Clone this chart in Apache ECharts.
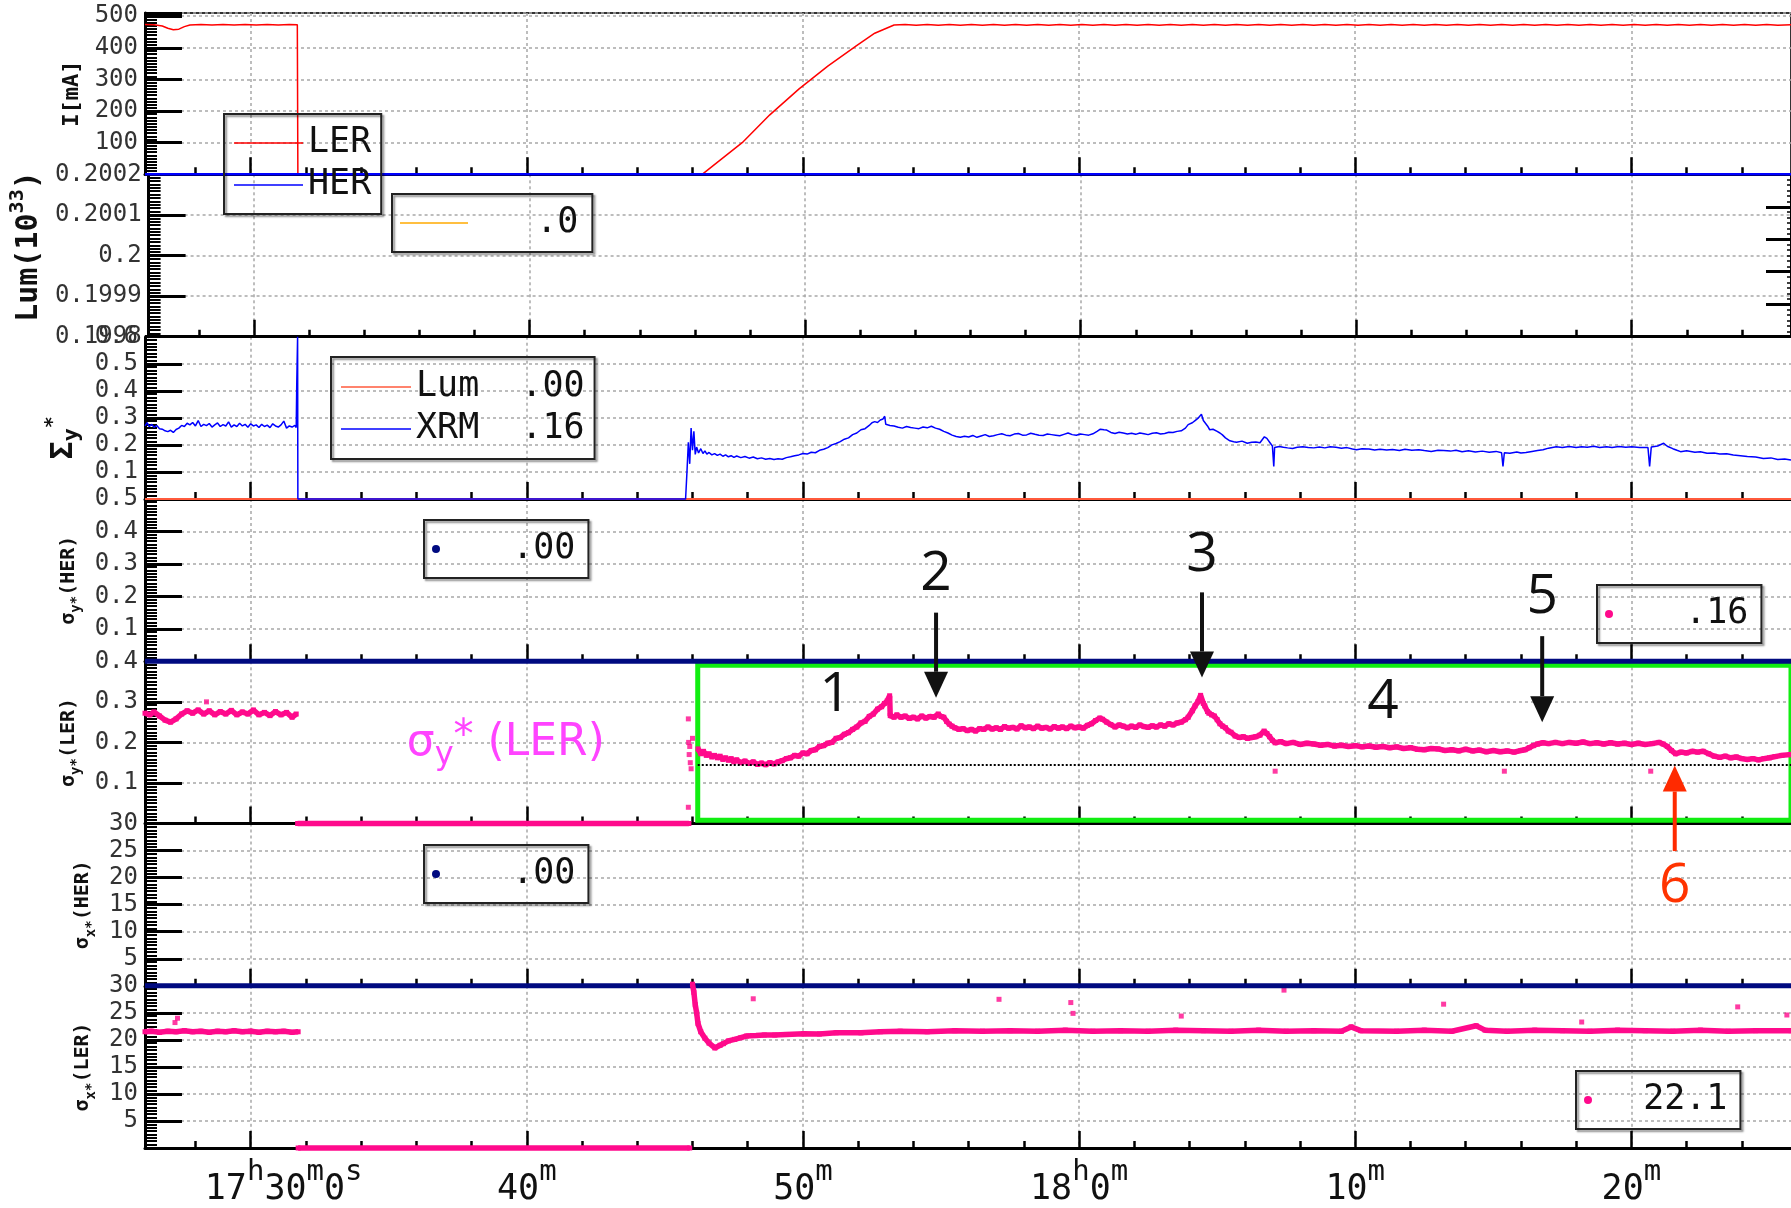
<!DOCTYPE html>
<html><head><meta charset="utf-8">
<script src="https://cdn.jsdelivr.net/npm/echarts@6.0.0/dist/echarts.min.js"></script>
<style>html,body{margin:0;padding:0;background:#fff}#c{width:1791px;height:1208px}</style>
</head><body><div id="c"></div>
<script>
// ---------- x axis (minutes after 17:00) ----------
const X_MIN = 26.174, X_MAX = 85.78;
const xMajorTicks = [30, 40, 50, 60, 70, 80];
const xMinorTicks = [28, 32, 34, 36, 38, 42, 44, 46, 48, 52, 54, 56, 58, 62, 64, 66, 68, 72, 74, 76, 78, 82, 84];
const xTickLabels = [['17','h','30','m','0','s'], ['40','m'], ['50','m'], ['18','h','0','m'], ['10','m'], ['20','m']];

// ---------- series data [t, value] ----------
const LER_I = [[26.174,474],[26.5,473],[26.8,469],[27.0,462],[27.2,457],[27.4,459],[27.6,467],[27.8,472],[28.2,474],[28.6,472],[29.0,474],[29.4,472],[29.8,474],[30.2,472],[30.6,474],[31.0,472],[31.4,474],[31.69,473],[31.71,0],[46.35,0],[47.0,45],[47.8,100],[48.8,188],[49.86,270],[50.9,342],[51.93,406],[52.6,446],[53.3,472],[53.7,474],[54.1,471],[54.5,474],[54.9,471],[55.3,474],[55.7,471],[56.1,474],[56.5,471],[56.9,474],[57.3,471],[57.7,474],[58.1,471],[58.5,474],[58.9,471],[59.3,474],[59.7,471],[60.1,474],[60.5,471],[60.9,474],[61.3,471],[61.7,474],[62.1,471],[62.5,474],[62.9,471],[63.3,474],[63.7,471],[64.1,474],[64.5,471],[64.9,474],[65.3,471],[65.7,474],[66.1,471],[66.5,474],[66.9,471],[67.3,474],[67.7,471],[68.1,474],[68.5,471],[68.9,474],[69.3,471],[69.7,474],[70.1,471],[70.5,474],[70.9,471],[71.3,474],[71.7,471],[72.1,474],[72.5,471],[72.9,474],[73.3,471],[73.7,474],[74.1,471],[74.5,474],[74.9,471],[75.3,474],[75.7,471],[76.1,474],[76.5,471],[76.9,474],[77.3,471],[77.7,474],[78.1,471],[78.5,474],[78.9,471],[79.3,474],[79.7,471],[80.1,474],[80.5,471],[80.9,474],[81.3,471],[81.7,474],[82.1,471],[82.5,474],[82.9,471],[83.3,474],[83.7,471],[84.1,474],[84.5,471],[84.9,474],[85.3,471],[85.78,473]];
const HER_I = [[26.174,0],[85.78,0]];
const LUM = [[26.174,0],[85.78,0]];
const XRM = [[26.174,0.27],[26.25,0.282],[26.33,0.268],[26.42,0.276],[26.5,0.265],[26.6,0.272],[26.7,0.26],[26.8,0.258],[26.9,0.252],[27.0,0.249],[27.1,0.254],[27.2,0.246],[27.3,0.257],[27.4,0.262],[27.5,0.272],[27.6,0.268],[27.7,0.28],[27.8,0.274],[27.9,0.283],[28.0,0.27],[28.1,0.29],[28.2,0.268],[28.3,0.276],[28.4,0.271],[28.5,0.279],[28.6,0.266],[28.7,0.274],[28.8,0.281],[28.9,0.268],[29.0,0.275],[29.1,0.27],[29.2,0.285],[29.3,0.266],[29.4,0.274],[29.5,0.268],[29.6,0.28],[29.7,0.27],[29.8,0.276],[29.9,0.265],[30.0,0.278],[30.1,0.27],[30.2,0.274],[30.3,0.264],[30.4,0.276],[30.5,0.268],[30.6,0.273],[30.7,0.264],[30.8,0.278],[30.9,0.27],[31.0,0.266],[31.1,0.274],[31.2,0.288],[31.3,0.262],[31.4,0.27],[31.5,0.266],[31.6,0.272],[31.65,0.264],[31.67,0.43],[31.7,0.6],[31.71,0],
[45.75,0],[45.8,0.1],[45.85,0.21],[45.9,0.13],[45.95,0.262],[46.0,0.18],[46.05,0.25],[46.1,0.165],[46.15,0.192],[46.22,0.17],[46.3,0.186],[46.38,0.168],[46.45,0.178],[46.52,0.166],[46.6,0.172],[46.7,0.163],[46.8,0.168],[46.9,0.161],[47.0,0.166],[47.1,0.158],[47.2,0.163],[47.3,0.156],[47.4,0.16],[47.5,0.154],[47.6,0.159],[47.75,0.153],[47.9,0.157],[48.05,0.151],[48.2,0.155],[48.35,0.149],[48.5,0.152],[48.65,0.147],[48.8,0.15],[48.95,0.146],[49.1,0.149],[49.25,0.147],[49.4,0.153],[49.55,0.156],[49.7,0.16],[49.85,0.163],[50.0,0.168],[50.15,0.166],[50.3,0.173],[50.45,0.171],[50.6,0.18],[50.75,0.184],[50.9,0.19],[51.05,0.2],[51.2,0.205],[51.35,0.212],[51.5,0.221],[51.65,0.226],[51.8,0.238],[51.95,0.244],[52.1,0.256],[52.25,0.26],[52.4,0.272],[52.5,0.282],[52.6,0.286],[52.7,0.283],[52.8,0.292],[52.9,0.296],[52.96,0.306],[53.0,0.276],[53.15,0.272],[53.3,0.27],[53.45,0.265],[53.6,0.262],[53.75,0.268],[53.9,0.264],[54.05,0.262],[54.2,0.26],[54.35,0.266],[54.5,0.263],[54.65,0.269],[54.8,0.262],[54.95,0.258],[55.1,0.25],[55.25,0.244],[55.4,0.236],[55.55,0.231],[55.7,0.228],[55.85,0.232],[56.0,0.229],[56.15,0.235],[56.3,0.228],[56.45,0.233],[56.6,0.238],[56.75,0.231],[56.9,0.234],[57.05,0.238],[57.2,0.241],[57.35,0.236],[57.5,0.234],[57.65,0.24],[57.8,0.242],[57.95,0.236],[58.1,0.237],[58.25,0.243],[58.4,0.239],[58.55,0.236],[58.7,0.235],[58.85,0.24],[59.0,0.238],[59.15,0.236],[59.3,0.234],[59.45,0.239],[59.6,0.244],[59.75,0.238],[59.9,0.236],[60.05,0.24],[60.2,0.238],[60.35,0.236],[60.5,0.241],[60.65,0.25],[60.77,0.258],[60.9,0.256],[61.0,0.255],[61.15,0.246],[61.3,0.242],[61.45,0.247],[61.6,0.244],[61.75,0.24],[61.9,0.243],[62.05,0.239],[62.2,0.244],[62.35,0.241],[62.5,0.238],[62.65,0.243],[62.8,0.245],[62.95,0.24],[63.1,0.242],[63.25,0.247],[63.4,0.246],[63.55,0.25],[63.7,0.252],[63.85,0.262],[63.95,0.275],[64.1,0.282],[64.2,0.29],[64.3,0.298],[64.43,0.313],[64.5,0.29],[64.55,0.285],[64.65,0.27],[64.73,0.256],[64.85,0.258],[65.0,0.25],[65.1,0.244],[65.19,0.237],[65.3,0.226],[65.46,0.215],[65.6,0.212],[65.7,0.21],[65.9,0.214],[66.09,0.206],[66.25,0.21],[66.4,0.211],[66.55,0.208],[66.71,0.23],[66.8,0.224],[66.9,0.21],[67.0,0.196],[67.05,0.12],[67.08,0.19],[67.25,0.194],[67.4,0.191],[67.55,0.189],[67.73,0.187],[67.9,0.191],[68.1,0.193],[68.3,0.19],[68.5,0.189],[68.7,0.192],[68.9,0.189],[69.09,0.193],[69.3,0.191],[69.5,0.188],[69.7,0.19],[69.9,0.185],[70.05,0.182],[70.25,0.186],[70.5,0.185],[70.7,0.181],[70.9,0.184],[71.14,0.181],[71.35,0.183],[71.6,0.179],[71.8,0.184],[72.05,0.18],[72.3,0.182],[72.5,0.179],[72.75,0.176],[73.0,0.18],[73.2,0.179],[73.45,0.177],[73.65,0.18],[73.87,0.175],[74.1,0.178],[74.35,0.174],[74.6,0.177],[74.85,0.173],[75.1,0.176],[75.3,0.171],[75.35,0.12],[75.4,0.171],[75.6,0.169],[75.85,0.174],[76.0,0.17],[76.18,0.172],[76.4,0.176],[76.6,0.179],[76.8,0.182],[77.0,0.188],[77.28,0.193],[77.5,0.19],[77.75,0.194],[78.0,0.19],[78.2,0.193],[78.4,0.191],[78.64,0.195],[78.85,0.19],[79.1,0.193],[79.3,0.19],[79.55,0.194],[79.8,0.191],[80.01,0.193],[80.3,0.19],[80.6,0.19],[80.66,0.12],[80.72,0.192],[80.95,0.196],[81.17,0.206],[81.3,0.195],[81.5,0.186],[81.65,0.18],[81.78,0.175],[82.0,0.178],[82.3,0.173],[82.5,0.175],[82.74,0.169],[83.0,0.17],[83.2,0.166],[83.45,0.167],[83.69,0.163],[83.95,0.16],[84.2,0.157],[84.5,0.155],[84.78,0.15],[85.05,0.152],[85.3,0.146],[85.55,0.148],[85.78,0.144]];
const SIGY_HER = [[26.174,0],[85.78,0]];
const SIGY_LER = [[26.174,0.272],[26.35,0.268],[26.5,0.275],[26.7,0.265],[26.9,0.255],[27.1,0.25],[27.3,0.258],[27.5,0.27],[27.7,0.278],[27.9,0.272],[28.1,0.28],[28.3,0.27],[28.5,0.278],[28.7,0.268],[28.9,0.276],[29.1,0.27],[29.3,0.279],[29.5,0.268],[29.7,0.275],[29.9,0.27],[30.1,0.28],[30.3,0.268],[30.5,0.274],[30.7,0.266],[30.9,0.276],[31.1,0.268],[31.3,0.274],[31.5,0.262],[31.65,0.27],[31.67,null],
[31.7,0],[45.87,0],[45.9,null],
[46.2,0.184],[46.3,0.172],[46.4,0.178],[46.5,0.168],[46.6,0.172],[46.7,0.164],[46.8,0.168],[46.9,0.162],[47.0,0.166],[47.1,0.158],[47.2,0.162],[47.3,0.156],[47.4,0.16],[47.5,0.152],[47.6,0.157],[47.75,0.15],[47.9,0.154],[48.05,0.148],[48.2,0.152],[48.35,0.146],[48.5,0.149],[48.65,0.145],[48.8,0.15],[48.95,0.147],[49.1,0.152],[49.25,0.155],[49.4,0.16],[49.55,0.162],[49.7,0.168],[49.85,0.166],[50.0,0.174],[50.15,0.172],[50.3,0.18],[50.45,0.182],[50.6,0.19],[50.75,0.192],[50.9,0.198],[51.05,0.2],[51.2,0.21],[51.35,0.212],[51.5,0.22],[51.65,0.224],[51.8,0.232],[51.95,0.238],[52.1,0.248],[52.25,0.252],[52.4,0.264],[52.55,0.27],[52.7,0.282],[52.85,0.288],[52.95,0.296],[53.05,0.302],[53.14,0.315],[53.16,0.266],[53.3,0.262],[53.4,0.268],[53.55,0.262],[53.7,0.265],[53.85,0.259],[54.0,0.262],[54.15,0.258],[54.3,0.265],[54.45,0.26],[54.6,0.264],[54.75,0.262],[54.9,0.27],[55.0,0.264],[55.1,0.262],[55.2,0.252],[55.3,0.245],[55.4,0.24],[55.5,0.236],[55.65,0.232],[55.8,0.234],[55.95,0.229],[56.1,0.232],[56.25,0.228],[56.4,0.234],[56.55,0.232],[56.7,0.238],[56.85,0.233],[57.0,0.236],[57.15,0.232],[57.3,0.239],[57.45,0.235],[57.6,0.237],[57.75,0.233],[57.9,0.241],[58.05,0.236],[58.2,0.238],[58.35,0.234],[58.5,0.24],[58.65,0.235],[58.8,0.237],[58.95,0.233],[59.1,0.239],[59.25,0.235],[59.4,0.238],[59.55,0.234],[59.7,0.24],[59.85,0.236],[60.0,0.238],[60.15,0.235],[60.3,0.242],[60.45,0.246],[60.6,0.254],[60.75,0.26],[60.85,0.257],[61.0,0.25],[61.15,0.244],[61.3,0.238],[61.45,0.243],[61.6,0.24],[61.75,0.236],[61.9,0.24],[62.05,0.237],[62.2,0.243],[62.35,0.239],[62.5,0.237],[62.65,0.241],[62.8,0.238],[62.95,0.243],[63.1,0.24],[63.25,0.246],[63.4,0.243],[63.55,0.248],[63.7,0.25],[63.85,0.256],[63.95,0.262],[64.1,0.278],[64.2,0.29],[64.3,0.3],[64.4,0.316],[64.5,0.296],[64.55,0.29],[64.65,0.276],[64.7,0.272],[64.8,0.268],[64.9,0.265],[65.0,0.256],[65.1,0.246],[65.2,0.24],[65.3,0.236],[65.4,0.228],[65.5,0.225],[65.65,0.216],[65.8,0.212],[65.95,0.214],[66.1,0.21],[66.25,0.212],[66.4,0.214],[66.55,0.218],[66.7,0.228],[66.8,0.222],[66.9,0.214],[67.0,0.205],[67.1,0.199],[67.3,0.202],[67.5,0.197],[67.75,0.2],[68.0,0.195],[68.25,0.198],[68.5,0.196],[68.75,0.193],[69.0,0.195],[69.25,0.191],[69.5,0.193],[69.75,0.19],[70.0,0.192],[70.25,0.189],[70.5,0.191],[70.75,0.188],[71.0,0.19],[71.25,0.187],[71.5,0.189],[71.75,0.185],[72.0,0.187],[72.25,0.183],[72.5,0.182],[72.75,0.185],[73.0,0.184],[73.25,0.18],[73.5,0.182],[73.75,0.179],[74.0,0.183],[74.25,0.179],[74.5,0.181],[74.75,0.177],[75.0,0.18],[75.25,0.177],[75.5,0.179],[75.75,0.176],[76.0,0.18],[76.15,0.182],[76.3,0.187],[76.45,0.192],[76.6,0.196],[76.8,0.199],[77.0,0.197],[77.25,0.2],[77.5,0.197],[77.75,0.2],[78.0,0.198],[78.25,0.201],[78.5,0.197],[78.75,0.199],[79.0,0.196],[79.25,0.199],[79.5,0.196],[79.75,0.198],[80.0,0.195],[80.25,0.198],[80.5,0.195],[80.75,0.197],[81.0,0.2],[81.15,0.196],[81.3,0.19],[81.45,0.18],[81.6,0.172],[81.8,0.176],[82.0,0.174],[82.2,0.178],[82.4,0.176],[82.6,0.178],[82.8,0.172],[83.0,0.166],[83.2,0.163],[83.4,0.166],[83.6,0.162],[83.8,0.164],[84.0,0.16],[84.2,0.158],[84.4,0.16],[84.6,0.157],[84.8,0.16],[85.0,0.162],[85.2,0.165],[85.45,0.168],[85.78,0.17]];
const SIGY_LER_OUT = [[45.85,0.258],[45.86,0.2],[45.9,0.19],[45.88,0.17],[45.92,0.15],[45.95,0.135],[45.85,0.04],[46.0,0.21],[67.1,0.129],[75.4,0.129],[80.7,0.129],[28.4,0.3]];
const SIGX_HER = [[26.174,0],[85.78,0]];
const SIGX_LER = [[26.174,21.5],[26.4,21.6],[26.7,21.4],[27.0,21.6],[27.3,21.5],[27.6,21.7],[27.9,21.5],[28.2,21.6],[28.5,21.4],[28.8,21.6],[29.1,21.5],[29.4,21.7],[29.7,21.5],[30.0,21.6],[30.3,21.4],[30.6,21.6],[30.9,21.5],[31.2,21.6],[31.5,21.4],[31.72,21.5],[31.73,null],
[31.72,0],[45.9,0],[45.95,null],
[46.0,30.3],[46.05,28.8],[46.1,26.5],[46.15,25],[46.2,23],[46.3,21.5],[46.45,20.3],[46.6,19.4],[46.81,18.5],[47.0,19],[47.12,19.3],[47.3,19.8],[47.53,20.1],[47.75,20.4],[47.95,20.7],[48.3,20.8],[48.6,20.9],[48.98,20.9],[49.4,21.0],[50.03,21.15],[50.6,21.1],[51.2,21.3],[52.1,21.3],[52.8,21.5],[53.52,21.6],[54.5,21.5],[55.5,21.7],[56.5,21.6],[57.5,21.7],[58.5,21.6],[59.5,21.8],[60.5,21.6],[61.5,21.7],[62.5,21.6],[63.5,21.8],[64.5,21.7],[65.5,21.6],[66.5,21.8],[67.5,21.6],[68.5,21.7],[69.5,21.6],[69.85,22.4],[70.2,21.7],[71.5,21.6],[72.5,21.8],[73.5,21.6],[74.38,22.6],[74.7,21.8],[75.5,21.6],[76.5,21.8],[77.5,21.7],[78.5,21.6],[79.5,21.8],[80.5,21.7],[81.5,21.6],[82.5,21.8],[83.5,21.6],[84.5,21.7],[85.78,21.7]];
const SIGX_LER_OUT = [[27.26,23.2],[27.35,24],[48.2,27.6],[57.1,27.5],[59.7,26.9],[59.78,24.9],[63.7,24.4],[67.42,29.2],[73.2,26.6],[78.2,23.3],[83.85,26.1],[85.63,24.6]];

// ---------- y axes ----------
const yMin = [0, 0.1998, 0, 0, 0, 0, 0];
const yMax = [510, 0.2002, 0.6, 0.5, 0.4, 30, 30];
const yInterval = [100, 0.0001, 0.1, 0.1, 0.1, 5, 5];
const yDigits = [0, 4, 1, 1, 1, 0, 0];

// ---------- legend display texts ----------
const legendText = { LER: 'LER', HER: 'HER', LumP2: '   .0', LumP3: 'Lum  .00', XRM: 'XRM  .16', SYH: '   .00', SYL: '   .16', SXH: '   .00', SXL: '  22.1' };

// ---------- annotations (panel 5 data coordinates) ----------
const annoTexts = [
  { text: '1', t: 51.17, v: 0.317, color: '#111' },
  { text: '2', t: 54.82, v: 0.615, color: '#111' },
  { text: '3', t: 64.45, v: 0.662, color: '#111' },
  { text: '4', t: 71.0, v: 0.30, color: '#111' },
  { text: '5', t: 76.77, v: 0.557, color: '#111' },
  { text: '6', t: 81.57, v: -0.154, color: '#ff3300' }
];
const annoArrows = [
  { t: 54.82, from: 0.52, to: 0.31, color: '#111' },
  { t: 64.45, from: 0.57, to: 0.36, color: '#111' },
  { t: 76.77, from: 0.462, to: 0.25, color: '#111' },
  { t: 81.57, from: -0.068, to: 0.143, color: '#ff2a00' }
];

// ---------- layout ----------
const tops = [13, 174.3, 336.7, 499, 661.3, 823.5, 985.8];
const heights = [161.3, 162.4, 162.3, 162.3, 162.2, 162.3, 162.2];
const MONO = 'DejaVu Sans Mono';
const GRIDLINE = { color: '#a8a8a8', type: [3, 3], width: 1.5 };

const chart = echarts.init(document.getElementById('c'), null, { renderer: 'canvas' });

const grids = tops.map((t, i) => ({ left: 145, width: 1647, top: t, height: heights[i], show: i === 0, borderColor: '#333', borderWidth: 2, backgroundColor: 'transparent' }));

function xLabel(v) {
  const idx = xMajorTicks.indexOf(Math.round(v));
  if (idx < 0) return '';
  const parts = xTickLabels[idx];
  let s = idx === 0 ? '{p| }' : '';
  parts.forEach((p, k) => { s += (k % 2 === 0 ? '{b|' : '{s|') + p + '}'; });
  return s;
}

const xAxes = [];
for (let i = 0; i < 7; i++) {
  xAxes.push({
    type: 'value', gridIndex: i, min: X_MIN, max: X_MAX, position: 'bottom',
    axisLine: { show: true, onZero: false, lineStyle: { color: '#000', width: 3 } },
    axisTick: { show: true, inside: true, length: 17, customValues: xMajorTicks, lineStyle: { color: '#000', width: 2.5 } },
    axisLabel: {
      show: i === 6, customValues: xMajorTicks, margin: 10, formatter: xLabel,
      rich: {
        b: { fontFamily: MONO, fontSize: 35, color: '#111', verticalAlign: 'bottom' },
        s: { fontFamily: MONO, fontSize: 29, color: '#111', verticalAlign: 'bottom', padding: [0, 0, 20, 0] },
        p: { width: 66, fontSize: 20 }
      }
    },
    splitLine: { show: true, lineStyle: GRIDLINE }
  });
  xAxes.push({
    type: 'value', gridIndex: i, min: X_MIN, max: X_MAX, position: 'bottom',
    axisLine: { show: false },
    axisTick: { show: true, inside: true, length: 7, customValues: xMinorTicks, lineStyle: { color: '#000', width: 2.5 } },
    axisLabel: { show: false }, splitLine: { show: false }
  });
}

const nameRich = {
  b: { fontFamily: MONO, fontWeight: 'bold', fontSize: 20, color: '#111', verticalAlign: 'bottom', padding: [0, 0, 5, 0] },
  sub: { fontFamily: MONO, fontWeight: 'bold', fontSize: 14, color: '#111', verticalAlign: 'bottom' },
  B: { fontFamily: MONO, fontWeight: 'bold', fontSize: 30, color: '#111', verticalAlign: 'bottom', padding: [0, 0, 4, 0] },
  BS: { fontFamily: MONO, fontWeight: 'bold', fontSize: 22, color: '#111', verticalAlign: 'bottom' },
  sup: { fontFamily: MONO, fontWeight: 'bold', fontSize: 20, color: '#111', verticalAlign: 'bottom', padding: [0, 0, 20, 0] },
  I: { fontFamily: MONO, fontWeight: 'bold', fontSize: 22, color: '#111' }
};
const yNames = ['{I|I[mA]}', '{B|Lum(10}{sup|33}{B|)}', '{B|Σ}{BS|y}{sup|*}', '{b|σ}{sub|y*}{b|(HER)}', '{b|σ}{sub|y*}{b|(LER)}', '{b|σ}{sub|x*}{b|(HER)}', '{b|σ}{sub|x*}{b|(LER)}'];
const yNameGap = [54, 88, 62, 56, 56, 44, 44];
const yNamePad = [[0, 0, 0, 0], [0, 0, 0, 18], [0, 40, 0, 0], [0, 0, 0, 0], [0, 0, 0, 0], [0, 0, 0, 0], [0, 0, 0, 0]];
const minorSplit = [10, 12, 8, 10, 12, 8, 8];

const yAxes = [];
for (let i = 0; i < 7; i++) {
  yAxes.push({
    type: 'value', gridIndex: i, min: yMin[i], max: yMax[i], interval: yInterval[i], position: 'left',
    axisLine: { show: true, onZero: false, lineStyle: { color: '#000', width: 3 } },
    axisTick: { show: true, inside: true, length: 37, lineStyle: { color: '#000', width: 3 } },
    minorTick: { show: true, splitNumber: minorSplit[i], length: 12, lineStyle: { color: '#000', width: 2 } },
    axisLabel: {
      showMinLabel: i === 1, showMaxLabel: i !== 0, margin: 7,
      fontFamily: MONO, fontSize: 24, color: '#333',
      formatter: (v) => String(+(+v).toFixed(yDigits[i]))
    },
    splitLine: { show: true, lineStyle: GRIDLINE },
    name: yNames[i], nameLocation: 'middle', nameRotate: 90, nameGap: yNameGap[i],
    nameTextStyle: { rich: nameRich, padding: yNamePad[i] }
  });
}
// right-side axis of the luminosity panel
yAxes.push({
  type: 'value', gridIndex: 1, min: 0, max: 5, interval: 1, position: 'right',
  axisLine: { show: true, onZero: false, lineStyle: { color: '#000', width: 2 } },
  axisTick: { show: true, inside: true, length: 25, lineStyle: { color: '#000', width: 3 } },
  minorTick: { show: true, splitNumber: 6, length: 4, lineStyle: { color: '#000', width: 1.5 } },
  axisLabel: { show: false }, splitLine: { show: false }
});

const PINK = '#ff0a8c', NAVY = '#000a80', BLUE = '#0000ff', RED = '#ff0000';
function lineSeries(name, xi, yi, data, color, width, extra) {
  return Object.assign({
    type: 'line', name, xAxisIndex: xi * 2, yAxisIndex: yi, data, symbol: 'none', clip: false,
    lineStyle: { color, width }, itemStyle: { color }, connectNulls: false, animation: false, silent: true
  }, extra || {});
}

const series = [
  lineSeries('LER', 0, 0, LER_I, RED, 1.5),
  lineSeries('HER', 0, 0, HER_I, BLUE, 2.5),
  lineSeries('LumP2', 1, 1, LUM, '#ffaa00', 2, { clip: true }),
  lineSeries('LumP3', 2, 2, LUM, '#ff5a3c', 2),
  lineSeries('XRM', 2, 2, XRM, BLUE, 1.5),
  lineSeries('SYH', 3, 3, SIGY_HER, NAVY, 5),
  lineSeries('SYL', 4, 4, SIGY_LER, PINK, 5.5, {
    symbol: 'rect', symbolSize: 5, showSymbol: true,
    markArea: {
      silent: true,
      itemStyle: { color: 'rgba(0,0,0,0)', borderColor: '#11ee11', borderWidth: 5 },
      data: [[{ coord: [46.19, 0.39] }, { coord: [87.5, 0.008] }]]
    },
    markLine: {
      silent: true, symbol: ['none', 'none'], label: { show: false },
      lineStyle: { color: '#000', type: [2, 2], width: 2 },
      data: [[{ coord: [46.19, 0.144] }, { coord: [X_MAX, 0.144] }]]
    }
  }),
  { type: 'scatter', xAxisIndex: 8, yAxisIndex: 4, data: SIGY_LER_OUT, symbol: 'rect', symbolSize: 5, itemStyle: { color: PINK }, clip: false, animation: false, silent: true },
  lineSeries('SXH', 5, 5, SIGX_HER, NAVY, 5),
  lineSeries('SXL', 6, 6, SIGX_LER, PINK, 5.5, { symbol: 'rect', symbolSize: 5, showSymbol: true }),
  { type: 'scatter', xAxisIndex: 12, yAxisIndex: 6, data: SIGX_LER_OUT, symbol: 'rect', symbolSize: 5, itemStyle: { color: PINK }, clip: false, animation: false, silent: true }
];

const legendBase = {
  orient: 'vertical', selectedMode: false, borderColor: '#222', borderWidth: 2,
  shadowColor: 'rgba(0,0,0,0.45)', shadowBlur: 2, shadowOffsetX: 2, shadowOffsetY: 2,
  backgroundColor: 'transparent', itemHeight: 14, itemGap: 4,
  textStyle: { fontFamily: MONO, fontSize: 35, color: '#111', lineHeight: 38 },
  formatter: (n) => legendText[n]
};
const legends = [
  Object.assign({}, legendBase, { left: 224, top: 114, data: [{ name: 'LER', icon: 'rect' }, { name: 'HER', icon: 'rect' }], itemWidth: 69, itemHeight: 1.6, padding: [10, 10, 10, 10] }),
  Object.assign({}, legendBase, { left: 392, top: 194, data: [{ name: 'LumP2', icon: 'rect' }], itemWidth: 68, itemHeight: 1.6, padding: [10, 14, 10, 8] }),
  Object.assign({}, legendBase, { left: 331, top: 357, data: [{ name: 'LumP3', icon: 'rect' }, { name: 'XRM', icon: 'rect' }], itemWidth: 70, itemHeight: 1.6, padding: [11, 10, 11, 10] }),
  Object.assign({}, legendBase, { left: 424, top: 520, data: [{ name: 'SYH', icon: 'circle' }], itemWidth: 16, itemHeight: 8, padding: [10, 13, 10, 8] }),
  Object.assign({}, legendBase, { left: 1597, top: 585, data: [{ name: 'SYL', icon: 'circle' }], itemWidth: 16, itemHeight: 8, padding: [10, 13, 10, 8] }),
  Object.assign({}, legendBase, { left: 424, top: 845, data: [{ name: 'SXH', icon: 'circle' }], itemWidth: 16, itemHeight: 8, padding: [10, 13, 10, 8] }),
  Object.assign({}, legendBase, { left: 1576, top: 1071, data: [{ name: 'SXL', icon: 'circle' }], itemWidth: 16, itemHeight: 8, padding: [10, 13, 10, 8] })
];

chart.setOption({
  animation: false,
  backgroundColor: '#fff',
  grid: grids, xAxis: xAxes, yAxis: yAxes, legend: legends, series
});

// annotations positioned through the panel-5 scales
const g = [];
annoTexts.forEach((a) => {
  const p = chart.convertToPixel({ gridIndex: 4 }, [a.t, a.v]);
  g.push({ type: 'text', x: p[0], y: p[1], silent: true, z: 100,
    style: { text: a.text, font: '55px "Open Sans"', fill: a.color, align: 'center', verticalAlign: 'middle', textAlign: 'center', textVerticalAlign: 'middle' } });
});
annoArrows.forEach((a) => {
  const p0 = chart.convertToPixel({ gridIndex: 4 }, [a.t, a.from]);
  const p1 = chart.convertToPixel({ gridIndex: 4 }, [a.t, a.to]);
  const dir = p1[1] > p0[1] ? 1 : -1;
  const headLen = 26, headHalf = 12;
  const baseY = p1[1] - dir * headLen;
  g.push({ type: 'line', silent: true, z: 100, shape: { x1: p0[0], y1: p0[1], x2: p0[0], y2: baseY }, style: { stroke: a.color, lineWidth: 4 } });
  g.push({ type: 'polygon', silent: true, z: 100, shape: { points: [[p1[0] - headHalf, baseY], [p1[0] + headHalf, baseY], [p1[0], p1[1]]] }, style: { fill: a.color } });
});
const tp = chart.convertToPixel({ gridIndex: 4 }, [39.24, 0.195]);
g.push({ type: 'text', x: tp[0], y: tp[1], silent: true, z: 100,
  style: {
    text: '{a|σ}{s|y}{u|*}{a| (LER)}', align: 'center', verticalAlign: 'middle', textAlign: 'center', textVerticalAlign: 'middle',
    rich: {
      a: { fontFamily: 'DejaVu Sans', fontSize: 44, fill: '#ff44ff', color: '#ff44ff', verticalAlign: 'bottom', padding: [0, 0, 6, 0] },
      s: { fontFamily: 'DejaVu Sans', fontSize: 32, fill: '#ff44ff', color: '#ff44ff', verticalAlign: 'bottom' },
      u: { fontFamily: 'DejaVu Sans', fontSize: 40, fill: '#ff44ff', color: '#ff44ff', verticalAlign: 'bottom', padding: [0, 0, 14, 0] }
    }
  } });
chart.setOption({ graphic: g });
</script></body></html>
